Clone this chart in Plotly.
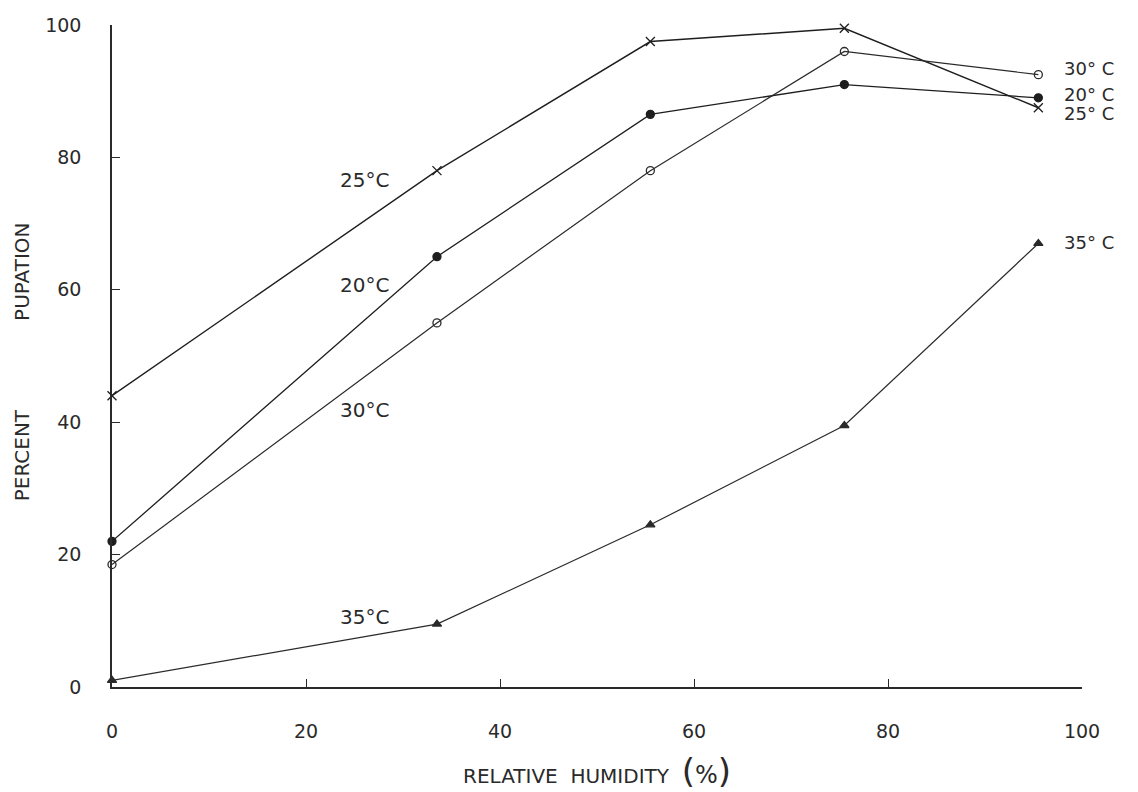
import plotly.graph_objects as go

# Relative humidity (%) at which pupation was recorded
humidity = [0, 33.5, 55.5, 75.5, 95.5]

# Percent pupation at each temperature
pupation_20 = [22, 65, 86.5, 91, 89]
pupation_25 = [44, 78, 97.5, 99.5, 87.5]
pupation_30 = [18.5, 55, 78, 96, 92.5]
pupation_35 = [1, 9.5, 24.5, 39.5, 67]

x_ticks = [0, 20, 40, 60, 80, 100]
y_ticks = [0, 20, 40, 60, 80, 100]

FONT = "DejaVu Sans"
INK = "#2a2a2a"

fig = go.Figure()

series = [
    ("25°C", pupation_25, "x-thin", 9, "#1e1e1e", 1.4),
    ("20°C", pupation_20, "circle", 8, "#1e1e1e", 1.3),
    ("30°C", pupation_30, "circle-open", 8, "#2a2a2a", 1.2),
    ("35°C", pupation_35, "triangle-up", 8, "#2a2a2a", 1.2),
]
for name, vals, sym, size, col, lw in series:
    fig.add_trace(go.Scatter(
        x=humidity, y=vals, name=name, mode="lines+markers",
        line=dict(color=col, width=lw),
        marker=dict(symbol=sym, size=size, color=col,
                    line=dict(color=col, width=1.3)),
        cliponaxis=False, showlegend=False,
    ))

# Curve labels beside the 33.5 % points
mid_labels = [
    ("25°C", 76.6),
    ("20°C", 60.8),
    ("30°C", 41.9),
    ("35°C", 10.6),
]
for txt, y in mid_labels:
    fig.add_annotation(x=26, y=y, text=txt, showarrow=False,
                       xanchor="center", yanchor="middle",
                       font=dict(family=FONT, size=20, color=INK))

# Curve labels at the right-hand end (tightly stacked, as drawn)
end_labels = [
    ("30° C", 93.5),
    ("20° C", 89.5),
    ("25° C", 86.6),
    ("35° C", 67.2),
]
for txt, y in end_labels:
    fig.add_annotation(x=100, y=y, text=txt, showarrow=False,
                       xanchor="left", yanchor="middle", xshift=-20,
                       height=17, valign="middle",
                       font=dict(family=FONT, size=18, color=INK))

# Axis titles
fig.add_annotation(x=0.5, y=0, xref="paper", yref="paper", yshift=-84,
                   xanchor="center", yanchor="middle",
                   text=("RELATIVE  HUMIDITY  <span style='font-size:34px'>(</span>"
                         "<span style='font-size:24px'>%</span>"
                         "<span style='font-size:34px'>)</span>"),
                   showarrow=False,
                   font=dict(family=FONT, size=20, color=INK))
fig.add_annotation(x=0, y=62.7, xref="paper", yref="y", xshift=-90,
                   xanchor="center", yanchor="middle",
                   text="PUPATION", showarrow=False, textangle=-90,
                   font=dict(family=FONT, size=20, color=INK))
fig.add_annotation(x=0, y=35, xref="paper", yref="y", xshift=-90,
                   xanchor="center", yanchor="middle",
                   text="PERCENT", showarrow=False, textangle=-90,
                   font=dict(family=FONT, size=20, color=INK))

axis_common = dict(
    showgrid=False, zeroline=False, showline=True, linecolor=INK, linewidth=1.6,
    ticks="inside", ticklen=8, tickwidth=1.4, tickcolor=INK,
    tickfont=dict(family=FONT, size=19, color=INK),
)

fig.update_layout(
    width=1138, height=792,
    margin=dict(l=112, r=56, t=25, b=105),
    paper_bgcolor="white", plot_bgcolor="white",
    xaxis=dict(range=[0, 100], tickvals=x_ticks, ticklabelstandoff=26, **axis_common),
    yaxis=dict(range=[0, 100], tickvals=y_ticks, ticklabelstandoff=25, **axis_common),
)

fig.write_html("out.html")
